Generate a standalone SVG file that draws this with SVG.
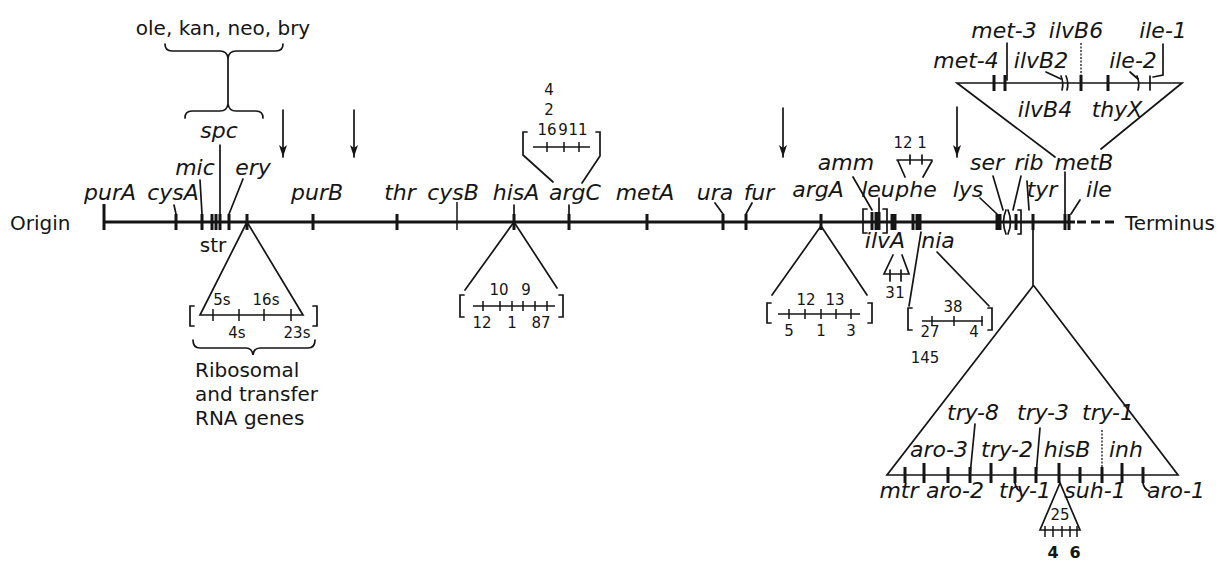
<svg xmlns="http://www.w3.org/2000/svg" width="1222" height="561" viewBox="0 0 1222 561">
<defs>
<style>
.ln{stroke:#151515;stroke-width:1.7;fill:none;stroke-linecap:round}
.main{stroke:#151515;stroke-width:3;fill:none}
.tk{stroke:#151515;stroke-width:3;fill:none}
.tn{stroke:#151515;stroke-width:1.5;fill:none}
.dot{stroke:#151515;stroke-width:1.3;fill:none;stroke-dasharray:2,1.5}
.it{font-family:"DejaVu Sans","Liberation Sans",sans-serif;font-style:italic;font-size:22px;fill:#151515;text-anchor:middle}
.rm{font-family:"DejaVu Sans","Liberation Sans",sans-serif;font-size:20px;fill:#151515}
.num{font-family:"DejaVu Sans","Liberation Sans",sans-serif;font-size:15px;fill:#151515;text-anchor:middle}
.bold{font-weight:bold;font-size:16px}
</style>
<marker id="ah" viewBox="0 0 12 8" refX="12" refY="4" markerWidth="12" markerHeight="8" markerUnits="userSpaceOnUse" orient="auto"><path d="M0,0 L12,4 L0,8 L3,4 z" fill="#151515"/></marker>
</defs>
<rect width="1222" height="561" fill="#fff"/>

<g id="chromosome">
<path class="main" d="M104,222 H1075"/>
<path class="main" d="M1077,222 H1117" stroke-dasharray="9,5" stroke-width="2"/>
<path class="tk" d="M104,204 V230 M176,214 V230 M202,214 V230 M212,214 V230 M216,214 V230 M220,214 V230 M229,214 V230 M247,214 V230 M313,214 V230 M397,214 V230 M514,214 V230 M569,214 V230 M647,214 V230 M723,214 V230 M746,214 V230 M821,214 V230 M872,212 V230 M876,212 V230 M879,212 V230 M892,214 V230 M895,214 V230 M913,214 V230 M917,214 V230 M920,214 V230 M997,214 V230 M1000,214 V230 M1016,214 V230 M1033,214 V230 M1065,214 V230 M1069,214 V230"/>
<path class="tn" d="M457,202 V230"/>
<path class="ln" d="M867,209 H863 V233 H867 M883,209 H887 V233 H883 M1006,210 Q1001,222 1006,234 M1008,210 Q1013,222 1008,234 M1018,210 H1021 V234 H1018"/>
<text class="rm" x="10" y="230">Origin</text>
<text class="rm" x="1125" y="230">Terminus</text>
</g>

<g id="connectors">
<path class="ln" d="M174,205 L176,214 M200,180 L202,214 M220,145 V214 M243,179 L229,214 M514,205 V214 M569,205 V214 M715,203 L723,214 M752,203 L746,214"/>
<path class="ln" d="M853,177 L872,210 M879,198 V212 M980,198 L997,214 M993,176 L1003,210 M1021,176 L1013,210 M1027,181 L1029,210 M1065,172 V214 M1080,200 L1071,214"/>
<path class="ln" d="M283,110 V157" marker-end="url(#ah)"/>
<path class="ln" d="M354,110 V157" marker-end="url(#ah)"/>
<path class="ln" d="M783,108 V157" marker-end="url(#ah)"/>
<path class="ln" d="M957,107 V157" marker-end="url(#ah)"/>
<path class="ln" d="M165,44 Q165,51 172,51 H220 Q227,51 228,58 Q229,51 236,51 H276 Q283,51 283,44 M228,58 V104 M185,118 Q185,111 192,111 H220 Q227,111 228,104 Q229,111 236,111 H256 Q263,111 263,118"/>
</g>

<g id="resistance">
<text class="rm" x="223" y="35" text-anchor="middle" font-size="19.5">ole, kan, neo, bry</text>
<text class="it" x="219" y="138">spc</text>
<text class="it" x="195" y="175">mic</text>
<text class="it" x="253" y="175">ery</text>
<text class="rm" x="213" y="252" text-anchor="middle" font-size="21">str</text>
</g>

<g id="genes-main">
<text class="it" x="110" y="200">purA</text>
<text class="it" x="173" y="200">cysA</text>
<text class="it" x="317" y="200">purB</text>
<text class="it" x="400" y="200">thr</text>
<text class="it" x="453" y="200">cysB</text>
<text class="it" x="516" y="200">hisA</text>
<text class="it" x="575" y="200">argC</text>
<text class="it" x="645" y="200">metA</text>
<text class="it" x="715" y="200">ura</text>
<text class="it" x="759" y="200">fur</text>
<text class="it" x="818" y="197">argA</text>
<text class="it" x="846" y="170">amm</text>
<text class="it" x="878" y="197" font-size="20">leu</text>
<text class="it" x="916" y="197" font-size="20">phe</text>
<text class="it" x="968" y="197">lys</text>
<text class="it" x="987" y="170">ser</text>
<text class="it" x="1029" y="170">rib</text>
<text class="it" x="1084" y="170">metB</text>
<text class="it" x="1042" y="197">tyr</text>
<text class="it" x="1099" y="197">ile</text>
<text class="it" x="885" y="248">ilvA</text>
<text class="it" x="938" y="248">nia</text>
</g>

<g id="rRNA-insert">
<path class="ln" d="M247,222 L200,315 H303 L247,222"/>
<path class="tn" d="M213,309 V321 M239,309 V321 M264,309 V321 M291,309 V321"/>
<path class="ln" d="M194,306 H190 V326 H194 M313,306 H317 V326 H313"/>
<text class="num" x="222" y="305" font-size="16">5s</text>
<text class="num" x="266" y="305" font-size="16">16s</text>
<text class="num" x="237" y="338" font-size="16">4s</text>
<text class="num" x="297" y="338" font-size="16">23s</text>
<path class="ln" d="M193,340 Q193,348 200,348 H246 Q252,348 253,355 Q254,348 260,348 H308 Q315,348 315,340"/>
<text class="rm" x="195" y="377" font-size="21">Ribosomal</text>
<text class="rm" x="195" y="401" font-size="21">and transfer</text>
<text class="rm" x="195" y="425" font-size="21">RNA genes</text>
</g>

<g id="hisA-insert">
<path class="ln" d="M465,290 L514,222 L557,288"/>
<path class="ln" d="M464,295 H460 V317 H464 M559,295 H563 V317 H559"/>
<path class="tn" d="M473,306 H555 M483,301 V311 M500,301 V311 M512,301 V311 M523,301 V311 M535,301 V311 M547,301 V311"/>
<text class="num" x="499" y="295">10</text>
<text class="num" x="526" y="295">9</text>
<text class="num" x="482" y="328">12</text>
<text class="num" x="512" y="328">1</text>
<text class="num" x="541" y="328">87</text>
</g>

<g id="argC-insert">
<path class="ln" d="M527,132 H523 V155 L553,182 M596,132 H600 V156 L582,183"/>
<path class="tn" d="M533,147 H590 M547,142 V152 M564,142 V152 M579,142 V152"/>
<text class="num" x="549" y="95" font-size="16">4</text>
<text class="num" x="549" y="115" font-size="16">2</text>
<text class="num" x="547" y="135" font-size="14">16</text>
<text class="num" x="563" y="135" font-size="14">9</text>
<text class="num" x="578" y="135" font-size="14">11</text>
</g>

<g id="argA-insert">
<path class="ln" d="M772,295 L821,226 L867,295"/>
<path class="ln" d="M771,303 H767 V323 H771 M868,303 H872 V323 H868"/>
<path class="tn" d="M778,314 H860 M789,309 V319 M805,309 V319 M821,309 V319 M836,309 V319 M851,309 V319"/>
<text class="num" x="806" y="305">12</text>
<text class="num" x="835" y="305">13</text>
<text class="num" x="789" y="336">5</text>
<text class="num" x="821" y="336">1</text>
<text class="num" x="851" y="336">3</text>
</g>

<g id="phe-insert">
<path class="ln" d="M897,160 H932 M910,155 V164 M922,155 V164 M898,161 L905,177 M932,161 L923,177"/>
<text class="num" x="903" y="148">12</text>
<text class="num" x="922" y="148">1</text>
</g>

<g id="ilvA-insert">
<path class="ln" d="M893,255 L884,274 H909 L902,255 M890,270 V281 M901,270 V281"/>
<text class="num" x="890" y="298">3</text>
<text class="num" x="900" y="298">1</text>
</g>

<g id="nia-insert">
<path class="ln" d="M921,232 L909,306 M937,252 L989,306"/>
<path class="ln" d="M912,308 H908 V330 H912 M988,308 H992 V330 H988"/>
<path class="tn" d="M922,321 H983 M932,316 V326 M954,316 V326 M982,316 V326"/>
<text class="num" x="953" y="312">38</text>
<text class="num" x="930" y="337">27</text>
<text class="num" x="974" y="337">4</text>
<text class="num" x="925" y="363">145</text>
</g>

<g id="metB-insert">
<path class="ln" d="M1055,157 L957,83 H1182 L1101,149"/>
<path class="tk" d="M994,75 V91 M1005,75 V91 M1081,75 V91 M1108,75 V91" stroke-width="2.5"/>
<path class="ln" d="M1061,76 Q1064,83 1062,90 M1066,76 Q1069,83 1067,90 M1137,76 Q1140,83 1138,90 M1150,76 V90"/>
<path class="ln" d="M1007,43 V80 M1046,72 L1061,79 M1130,72 L1138,79 M1163,44 V75 L1153,77"/>
<path class="dot" d="M1081,43 V78"/>
<text class="it" x="1004" y="38">met-3</text>
<text class="it" x="1076" y="38">ilvB6</text>
<text class="it" x="1163" y="38">ile-1</text>
<text class="it" x="966" y="68">met-4</text>
<text class="it" x="1041" y="68">ilvB2</text>
<text class="it" x="1133" y="68">ile-2</text>
<text class="it" x="1045" y="117">ilvB4</text>
<text class="it" x="1117" y="117">thyX</text>
</g>

<g id="tyr-insert">
<path class="ln" d="M1033,222 V286 L887,475 H1178 L1034,286"/>
<path class="tk" d="M905,467 V483 M924,463 V483 M948,467 V483 M970,467 V483 M991,463 V483 M1015,467 V483 M1036,467 V483 M1059,463 V483 M1080,467 V483 M1102,467 V483 M1122,463 V483 M1143,467 V483" stroke-width="2.5"/>
<path class="ln" d="M975,424 L970,475 M1040,428 L1036,475 M1015,483 Q1016,489 1020,491 M1143,483 Q1144,489 1149,491"/>
<path class="dot" d="M1102,430 V475"/>
<text class="it" x="973" y="420">try-8</text>
<text class="it" x="1043" y="420">try-3</text>
<text class="it" x="1108" y="420">try-1</text>
<text class="it" x="939" y="457">aro-3</text>
<text class="it" x="1007" y="457">try-2</text>
<text class="it" x="1067" y="457">hisB</text>
<text class="it" x="1126" y="457">inh</text>
<text class="it" x="899" y="498">mtr</text>
<text class="it" x="955" y="498">aro-2</text>
<text class="it" x="1025" y="498">try-1</text>
<text class="it" x="1095" y="498">suh-1</text>
<text class="it" x="1176" y="498">aro-1</text>
</g>

<g id="hisB-insert">
<path class="ln" d="M1060,483 L1040,530 H1080 Z"/>
<path class="tn" d="M1045,526 V537 M1053,526 V537 M1062,526 V537 M1070,526 V537 M1077,526 V537"/>
<text class="num" x="1060" y="520">25</text>
<text class="num bold" x="1053" y="558">4</text>
<text class="num bold" x="1075" y="558">6</text>
</g>
</svg>
